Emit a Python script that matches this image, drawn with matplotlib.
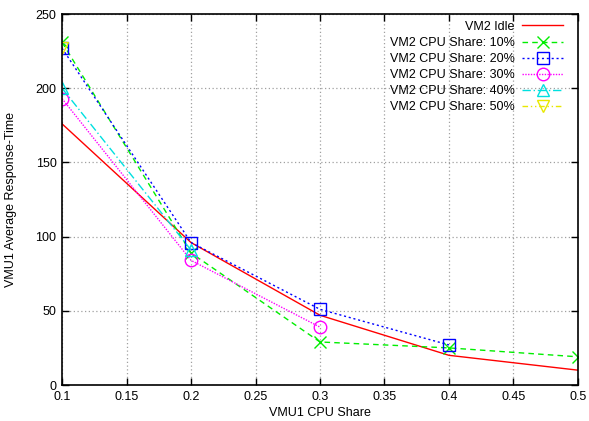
import numpy as np
import matplotlib.pyplot as plt

plt.rcParams['font.family'] = ['Liberation Sans', 'DejaVu Sans']
plt.rcParams['font.size'] = 9

# data
x_share = [0.1, 0.2, 0.3, 0.4, 0.5]
idle = [176, 96, 47, 20, 10]
share_10 = [231, 89, 29, 25, 19]
share_20 = [227, 96, 51, 27]
share_30 = [193, 84, 39]
share_40 = [200, 91]
share_50 = [227]

labels = ['VM2 Idle', 'VM2 CPU Share: 10%', 'VM2 CPU Share: 20%',
          'VM2 CPU Share: 30%', 'VM2 CPU Share: 40%', 'VM2 CPU Share: 50%']
series = [idle, share_10, share_20, share_30, share_40, share_50]
colors = ['#ff0000', '#00ee00', '#0000ff', '#ff00ff', '#00e0e0', '#e8e800']
markers = [None, 'x', 's', 'o', '^', 'v']
styles = ['-', (0, (4, 3)), (0, (1.5, 2)), (0, (1, 1)), (0, (6, 2, 1, 2)), (0, (4, 2, 1, 2, 1, 2))]

fig = plt.figure(figsize=(5.89, 4.21), dpi=100)
ax = fig.add_axes([0.1053, 0.0855, 0.876, 0.8812])

for ys, lab, col, mk, ls in zip(series, labels, colors, markers, styles):
    ax.plot(x_share[:len(ys)], ys, color=col, linestyle=ls, linewidth=1,
            marker=mk, markersize=9, markerfacecolor='none',
            markeredgecolor=col, markeredgewidth=1, label=lab)

ax.set_xlim(0.1, 0.5)
ax.set_ylim(0, 250)
ax.set_xticks(np.arange(0.1, 0.501, 0.05))
ax.set_xticklabels(['0.1', '0.15', '0.2', '0.25', '0.3', '0.35', '0.4', '0.45', '0.5'])
ax.set_yticks(range(0, 251, 50))
ax.tick_params(direction='in', top=True, right=True, length=5, width=1, pad=4)
ax.grid(True, color='#a0a0a0', linestyle=(0, (1, 2)), linewidth=0.9)
for s in ax.spines.values():
    s.set_linewidth(1.2)

ax.set_xlabel('VMU1 CPU Share', labelpad=3)
ax.set_ylabel('VMU1 Average Response-Time', labelpad=13)

ax.legend(loc='upper right', bbox_to_anchor=(0.981, 0.995), borderaxespad=0,
          frameon=False, markerfirst=False, handlelength=3.3,
          labelspacing=0.33, handletextpad=0.6)

fig.savefig('out.png', dpi=100)
